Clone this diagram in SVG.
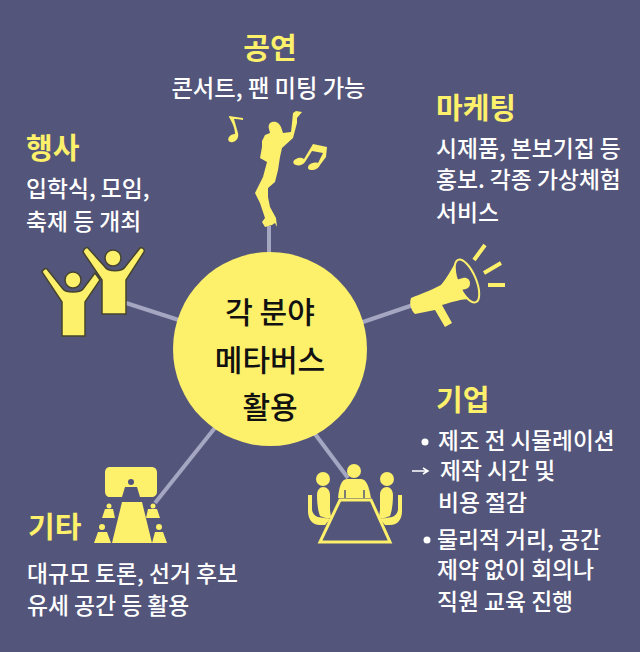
<svg xmlns="http://www.w3.org/2000/svg" width="640" height="652" viewBox="0 0 640 652">
<style>
.t{font-family:"Noto Sans CJK KR","Noto Sans",sans-serif;fill:#fff;font-size:22.800px;font-weight:500}
.h{font-family:"Noto Sans CJK KR","Noto Sans",sans-serif;fill:#fdf06b;font-size:29px;font-weight:700}
.c{font-family:"Noto Sans CJK KR","Noto Sans",sans-serif;fill:#111;font-size:30px;font-weight:500;text-anchor:middle}
.y{fill:#fdf06b}
.l{stroke:#a5a6c2;stroke-width:4;fill:none}
</style>
<rect width="640" height="652" fill="#53557a"/>
<g id="connectors">
<path class="l" d="M269 226V260"/>
<path class="l" d="M126 303L185 322"/>
<path class="l" d="M360 323L413 305"/>
<path class="l" d="M155 503L218 424"/>
<path class="l" d="M348 478L312 430"/>
</g>
<g id="center"><circle class="y" cx="270" cy="349" r="97"/>
<text class="c" x="270" y="323">각 분야</text><text class="c" x="270" y="371">메타버스</text><text class="c" x="270" y="418">활용</text></g>
<g id="concert">
<text class="h" x="270" y="59" text-anchor="middle">공연</text>
<text class="t" x="268.500" y="97" text-anchor="middle" style="font-size:23.300px">콘서트, 팬 미팅 가능</text>
<path class="y" d="M302 112L296 111L293 113L292 123L291 132L283 133L281 127C279 122 275 121 272 122C269 123 268 126 269 129L270 133L265 135L262 141L262 147L260 158L267 162L263 177L255 193L260 203L265 218L262 222L265 227L272 225L275 223L277 227L276 218L270 207L268 197L268 188L275 182L278 170L280 157L282 148L293 138L297 123L297 118Z"/>
<path class="y" d="M229 116l14 2l0 2c-4-1-7-1-9-1l4 14c1 4-1 8-5 9c-4 1-6-2-4-5c1-2 4-3 6-3c0-6-3-12-6-17z"/>
<path class="y" d="M313 144L327 147L326 157L320 165C319 168 315 170 312 170C308 170 307 168 309 165C311 163 315 162 318 163L323 153L312 151L305 162C303 165 299 166 296 165C292 164 293 160 296 159C299 157 302 158 304 159Z"/>
</g>
<g id="event">
<text class="h" x="26" y="159">행사</text>
<text class="t" x="26" y="197">입학식, 모임,</text>
<text class="t" x="26" y="230">축제 등 개최</text>
<g stroke="#45442f" stroke-width="1.500" class="y">
<path d="M42 272C43 269 46 268 47 269L63 289C66 293 80 293 83 289L95 273L100 280L85 302V336H62V302Z"/>
<circle cx="73" cy="280" r="8"/>
<path d="M83 252C84 248 87 247 88 248L105 267C108 272 122 272 125 267L140 248C143 247 145 250 144 252L126 280V314H102V280Z"/>
<circle cx="113" cy="258" r="8"/>
</g></g>
<g id="marketing">
<text class="h" x="436" y="119">마케팅</text>
<text class="t" x="436" y="157">시제품, 본보기집 등</text>
<text class="t" x="436" y="188">홍보. 각종 가상체험</text>
<text class="t" x="436" y="221">서비스</text>
<path class="y" d="M411 298C420 294 430 291 441 285C447 278 451 270 455 263L470 275L478 300C468 297 455 301 442 305L452 323L445 327L435 310L415 314C411 310 409 304 411 298Z"/>
<ellipse cx="467" cy="281" rx="9" ry="23" transform="rotate(-23 467 281)" fill="#53557a" stroke="#fdf06b" stroke-width="2"/>
<path class="y" d="M452 281l11-3c4-1 7 2 7 5c0 3-1 5-4 6l-9 2z"/>
<path d="M474 260L485 245M484 273L501 263M488 285H505" stroke="#fdf06b" stroke-width="4" fill="none"/>
</g>
<g id="company">
<text class="h" x="436" y="411">기업</text>
<circle cx="425" cy="442" r="3.500" fill="#fff"/>
<text class="t" x="438" y="449" style="font-size:22.600px">제조 전 시뮬레이션</text>
<path d="M412 471H427M423 468l5 3l-5 3" stroke="#fff" stroke-width="1.500" fill="none"/>
<text class="t" x="440" y="479">제작 시간 및</text>
<text class="t" x="438" y="511">비용 절감</text>
<circle cx="427" cy="540" r="3.500" fill="#fff"/>
<text class="t" x="437" y="548">물리적 거리, 공간</text>
<text class="t" x="437" y="578">제약 없이 회의나</text>
<text class="t" x="437" y="610">직원 교육 진행</text>
<g class="y">
<circle cx="354" cy="471" r="7"/><circle cx="323" cy="479" r="7"/><circle cx="387" cy="479" r="7"/>
<path d="M338 498C339 488 341 479 347 479H361C367 479 369 488 371 498Z"/>
<path d="M317 495c0-5 3-8 6-8c4 0 7 3 7 8v15l1 7l-3 2l-8-3c-2-5-3-13-3-21z"/>
<path d="M393 495c0-5-3-8-6-8c-4 0-7 3-7 8v15l-1 7l3 2l8-3c2-5 3-13 3-21z"/>
<path d="M308 495h4v14c0 4 3 7 6 8l12 2l-5 6h-5c-8 0-12-6-12-14z"/>
<path d="M402 495h-4v14c0 4-3 7-6 8l-12 2l5 6h5c8 0 12-6 12-14z"/>
</g>
<path d="M345 490v8M364 490v8" stroke="#53557a" stroke-width="1.500"/>
<path d="M340 500H371L390 542H320Z" fill="#53557a" stroke="#fdf06b" stroke-width="3"/>
</g>
<g id="other">
<text class="h" x="28" y="538">기타</text>
<text class="t" x="27" y="582">대규모 토론, 선거 후보</text>
<text class="t" x="27" y="614">유세 공간 등 활용</text>
<g class="y">
<path d="M110 467H151C155 467 157 469 157 473V491C157 495 155 497 151 497H140L137 487H125L122 497H110C107 497 105 495 105 491V473C105 469 107 467 110 467Z"/>
<path d="M122 502H142L152 543H112Z"/>
<circle cx="109" cy="506" r="2.500"/><circle cx="153" cy="506" r="2.500"/>
<path d="M105 509H113L115 518H102Z"/><path d="M148 509H157L160 518H146Z"/>
<circle cx="102" cy="527" r="3"/><circle cx="159" cy="527" r="3"/>
<path d="M98 532H107L111 543H94Z"/><path d="M155 532H163L167 543H152Z"/>
</g>
<circle cx="131" cy="482" r="3" fill="#53557a"/>
</g>
</svg>
